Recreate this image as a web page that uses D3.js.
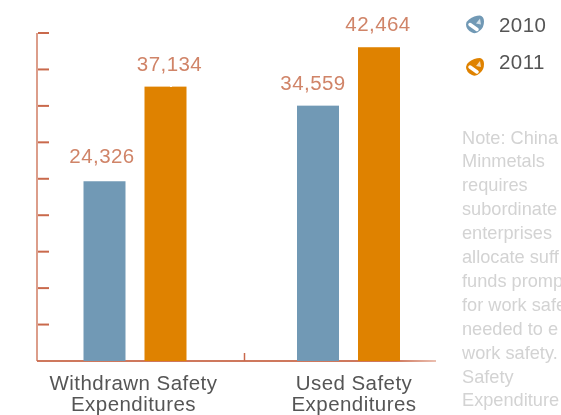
<!DOCTYPE html>
<html><head><meta charset="utf-8">
<script src="https://cdn.jsdelivr.net/npm/d3@7"></script>
<style>html,body{margin:0;padding:0;background:#fff}svg{display:block}text{font-family:"Liberation Sans",Arial,sans-serif}</style>
</head><body>
<script>
const categories = ["Withdrawn Safety Expenditures", "Used Safety Expenditures"];
const categoryLines = [["Withdrawn Safety", "Expenditures"], ["Used Safety", "Expenditures"]];
const seriesNames = ["2010", "2011"];
const values2010 = [24326, 34559];
const values2011 = [37134, 42464];
const colors = ["#7199b5", "#df8200"];
const axisTicks = [0,1,2,3,4,5,6,7,8,9];
const noteLines = ["Note: China","Minmetals","requires","subordinate","enterprises","allocate suff","funds promp","for work safe","needed to e","work safety.","Safety","Expenditure"];

const W = 561, H = 415;
const svg = d3.select("body").append("svg").attr("width", W).attr("height", H);
const defs = svg.append("defs");
const rough = defs.append("filter").attr("id","rough").attr("x","-5%").attr("y","-5%").attr("width","110%").attr("height","110%");
rough.append("feTurbulence").attr("type","fractalNoise").attr("baseFrequency",0.2).attr("numOctaves",2).attr("seed",4).attr("result","n");
rough.append("feDisplacementMap").attr("in","SourceGraphic").attr("in2","n").attr("scale",1.3)
  .attr("xChannelSelector","R").attr("yChannelSelector","G").attr("result","d");
rough.append("feGaussianBlur").attr("in","d").attr("stdDeviation",0.7);
const soft = defs.append("filter").attr("id","soft");
soft.append("feGaussianBlur").attr("stdDeviation",0.5);
const fade = defs.append("linearGradient").attr("id","fade").attr("gradientUnits","userSpaceOnUse")
  .attr("x1",37).attr("x2",436).attr("y1",0).attr("y2",0);
fade.append("stop").attr("offset","0.9").attr("stop-color","#c9694c");
fade.append("stop").attr("offset","1").attr("stop-color","#e9b8a8");

const base = 361;
const y = d3.scaleLinear().domain([0,45000]).range([base,28.5]);
const tickY = d3.scaleLinear().domain([0,9]).range([base,33]);
const centers = d3.scaleOrdinal().domain(categories).range([135,348.5]);
const x1 = d3.scaleOrdinal().domain(seriesNames).range([-30.5,30.5]);
const barW = 42;

const axisCol = "#c9694c";
const gAxis = svg.append("g").attr("filter","url(#soft)");
gAxis.append("line").attr("x1",37).attr("x2",37).attr("y1",33).attr("y2",base).attr("stroke",axisCol).attr("stroke-width",1.3);
gAxis.append("rect").attr("x",37).attr("width",399).attr("y",base-0.9).attr("height",1.8).attr("fill","url(#fade)");
gAxis.selectAll(".t").data(axisTicks.slice(1)).join("line")
  .attr("x1",38).attr("x2",49).attr("y1",d=>tickY(d)).attr("y2",d=>tickY(d))
  .attr("stroke",axisCol).attr("stroke-width",2);
gAxis.append("line").attr("x1",244.5).attr("x2",244.5).attr("y1",353).attr("y2",base).attr("stroke",axisCol).attr("stroke-width",1.5);

const gBars = svg.append("g").attr("filter","url(#rough)");
[values2010, values2011].forEach((vals,s) => {
  gBars.selectAll(".b"+s).data(vals).join("rect")
    .attr("x",(d,i)=>centers(categories[i])+x1(seriesNames[s])-barW/2)
    .attr("width",barW)
    .attr("y",d=>y(d))
    .attr("height",d=>base-y(d))
    .attr("fill",colors[s]);
});

const fmt = d3.format(",");
const gLab = svg.append("g").attr("filter","url(#soft)");
const labelDx = [[-2.5,-5],[4,-1]];
[values2010, values2011].forEach((vals,s) => {
  gLab.selectAll(".l"+s).data(vals).join("text")
    .attr("x",(d,i)=>centers(categories[i])+x1(seriesNames[s])+labelDx[s][i])
    .attr("y",(d,i)=>y(d)+(s===0&&i===0?-18:-16))
    .attr("text-anchor","middle").attr("font-size",20.5).attr("letter-spacing",0.45).attr("fill","#d08468")
    .text(fmt);
});
categoryLines.forEach((lines,i)=>{
  gLab.selectAll(".c"+i).data(lines).join("text")
    .attr("x",centers(categories[i])+(i===0?-1.5:5.5))
    .attr("y",(d,j)=>390+j*21)
    .attr("text-anchor","middle").attr("font-size",20.5).attr("letter-spacing",0.45).attr("fill","#555").text(d=>d);
});
// legend
const iconPath = "M-9,0 Q-9,-3 -6,-5 Q-1,-9 5,-9 Q9,-8 9,-3 Q9,3 5,6 Q1,10 -3,8 Q-9,5 -9,0 Z";
const legendY = d3.scaleOrdinal().domain(seriesNames).range([24.5,67]);
seriesNames.forEach((name,i)=>{
  const g = gLab.append("g").attr("transform",`translate(475,${legendY(name)})`);
  g.append("path").attr("d",iconPath).attr("fill",colors[i]);
  g.append("path").attr("d","M-5,0 L2,5").attr("stroke","#fff").attr("stroke-width",3.5).attr("stroke-linecap","round");
  g.append("path").attr("d","M1,-1 L5,-6 L6,0 Z").attr("fill","#fff").attr("opacity",0.7);
  gLab.append("text").attr("x",499).attr("y",legendY(name)+(i===0?7:1.5)).attr("font-size",20.5).attr("letter-spacing",0.45).attr("fill","#555").text(name);
});
gLab.selectAll(".n").data(noteLines).join("text")
  .attr("x",462).attr("y",(d,i)=>143.5+i*23.9)
  .attr("font-size",18.2).attr("fill","#d3d3d3").text(d=>d);
</script>
</body></html>
